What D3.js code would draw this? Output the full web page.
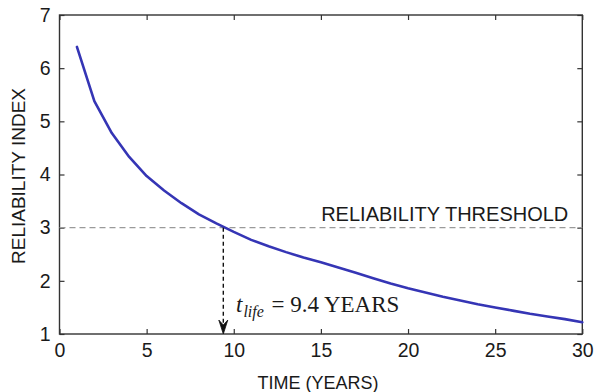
<!DOCTYPE html>
<html>
<head>
<meta charset="utf-8">
<script src="https://cdn.jsdelivr.net/npm/d3@7"></script>
<style>
  html, body { margin: 0; padding: 0; background: #fff; }
  svg { display: block; }
</style>
</head>
<body>
<svg id="chart" width="596" height="392"></svg>
<script>
// ---- data ----
const years = [1,2,3,4,5,6,7,8,9,10,11,12,13,14,15,16,17,18,19,20,21,22,23,24,25,26,27,28,29,30];
const reliability = [6.40,5.38,4.78,4.33,3.97,3.70,3.46,3.25,3.08,2.92,2.77,2.65,2.54,2.44,2.35,2.25,2.15,2.05,1.95,1.86,1.78,1.70,1.63,1.56,1.50,1.44,1.38,1.33,1.28,1.22];
const xTicks = [0,5,10,15,20,25,30];
const yTicks = [1,2,3,4,5,6,7];
const threshold = 3;
const lifeYears = 9.4;
const xTitle = "TIME (YEARS)";
const yTitle = "RELIABILITY INDEX";
const thresholdLabel = "RELIABILITY THRESHOLD";

// ---- layout ----
const svg = d3.select("#chart");
const L = 59.5, R = 582.3, T = 15, B = 334;
const x = d3.scaleLinear().domain([0, 30]).range([L, R]);
const y = d3.scaleLinear().domain([1, 7]).range([B, T]);
const axisColor = "#333";
const font = "'Liberation Sans', Arial, Helvetica, sans-serif";

function styleAxis(g) {
  g.select(".domain").remove();
  g.selectAll(".tick line").attr("stroke", axisColor).attr("stroke-width", 1.2);
  g.selectAll(".tick text").attr("fill", "#1a1a1a").style("font-family", font).style("font-size", "19.5px");
}

// bottom axis
svg.append("g").attr("transform", `translate(0,${B})`)
  .call(d3.axisBottom(x).tickValues(xTicks).tickFormat(d3.format("d")).tickSizeInner(-5).tickSizeOuter(0).tickPadding(9))
  .call(styleAxis);
// top axis (ticks only)
svg.append("g").attr("transform", `translate(0,${T})`)
  .call(d3.axisTop(x).tickValues(xTicks).tickFormat("").tickSizeInner(-5).tickSizeOuter(0))
  .call(styleAxis);
// left axis
svg.append("g").attr("transform", `translate(${L},0)`)
  .call(d3.axisLeft(y).tickValues(yTicks).tickFormat(d3.format("d")).tickSizeInner(-5).tickSizeOuter(0).tickPadding(9))
  .call(styleAxis);
// right axis (ticks only)
svg.append("g").attr("transform", `translate(${R},0)`)
  .call(d3.axisRight(y).tickValues(yTicks).tickFormat("").tickSizeInner(-5).tickSizeOuter(0))
  .call(styleAxis);

// frame
svg.append("rect").attr("x", L).attr("y", T).attr("width", R - L).attr("height", B - T)
  .attr("fill", "none").attr("stroke", axisColor).attr("stroke-width", 1.4);

// threshold line
svg.append("line")
  .attr("x1", x(0)).attr("x2", x(30)).attr("y1", y(threshold)).attr("y2", y(threshold))
  .attr("stroke", "#9a9a9a").attr("stroke-width", 1.2).attr("stroke-dasharray", "6,4");

svg.append("text")
  .attr("x", R - 14).attr("y", y(threshold) - 7)
  .attr("text-anchor", "end")
  .style("font-family", font).style("font-size", "20px").attr("fill", "#1a1a1a")
  .text(thresholdLabel);

// curve
const pts = years.map((t, i) => [t, reliability[i]]);
svg.append("path").datum(pts)
  .attr("fill", "none").attr("stroke", "#3535b5").attr("stroke-width", 2.6)
  .attr("stroke-linejoin", "round").attr("stroke-linecap", "round")
  .attr("d", d3.line().x(d => x(d[0])).y(d => y(d[1])));

// life arrow
const ax = x(lifeYears);
svg.append("line")
  .attr("x1", ax).attr("x2", ax).attr("y1", y(threshold)).attr("y2", B - 8)
  .attr("stroke", "#111").attr("stroke-width", 1.4).attr("stroke-dasharray", "4,3");
svg.append("path")
  .attr("d", `M${ax},${B} L${ax - 4.5},${B - 14} L${ax},${B - 9} L${ax + 4.5},${B - 14} Z`)
  .attr("fill", "#111").attr("stroke", "#111").attr("stroke-width", 0.8).attr("stroke-linejoin", "round");

// life label
const lt = svg.append("text")
  .attr("x", 236).attr("y", 311.5)
  .style("font-family", "'Liberation Serif', 'Times New Roman', serif").style("font-size", "23px").attr("fill", "#1a1a1a");
lt.append("tspan").style("font-style", "italic").text("t");
lt.append("tspan").style("font-style", "italic").style("font-size", "16px").attr("dx", 1).attr("dy", 5).text("life");
lt.append("tspan").attr("dy", -5).attr("dx", 2).text(" = " + lifeYears + " YEARS");

// axis titles
svg.append("text")
  .attr("x", (L + R) / 2 - 3).attr("y", 389)
  .attr("text-anchor", "middle")
  .style("font-family", font).style("font-size", "18px").attr("fill", "#1a1a1a")
  .text(xTitle);
svg.append("text")
  .attr("transform", `translate(25,176) rotate(-90)`)
  .attr("text-anchor", "middle")
  .style("font-family", font).style("font-size", "19px").attr("fill", "#1a1a1a")
  .text(yTitle);
</script>
</body>
</html>
